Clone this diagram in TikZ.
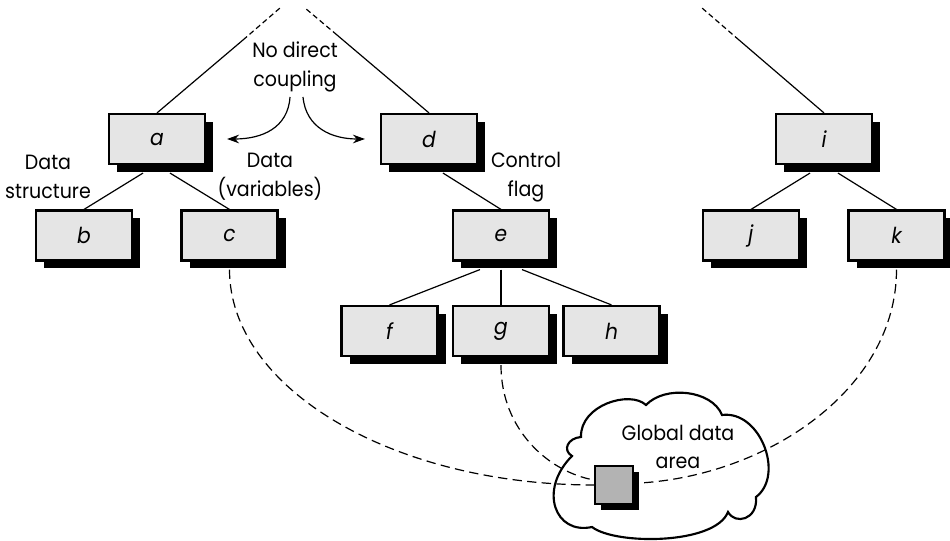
\documentclass[tikz,border=0pt]{standalone}
\usepackage{fontspec}
\setmainfont[FakeStretch=0.92]{Poppins}
\usetikzlibrary{shadows,calc,arrows.meta}
\definecolor{boxgray}{HTML}{E5E5E5}
\definecolor{sqgray}{HTML}{B3B3B3}
\begin{document}
\begin{tikzpicture}[x=0.75pt,y=-0.75pt,
  mod/.style={draw,line width=1.6pt,fill=boxgray,minimum width=72pt,minimum height=37.5pt,inner sep=0pt,
    font=\fontsize{16.5}{18}\selectfont\itshape,
    general shadow={fill=black,shadow xshift=6pt,shadow yshift=-6pt}},
  lbl/.style={align=center,font=\fontsize{15.5}{21.5}\selectfont,inner sep=0pt},
  link/.style={line width=0.9pt},
  topdash/.style={line width=0.9pt,dash pattern=on 4pt off 2.5pt},
  dlink/.style={line width=0.9pt,dash pattern=on 7pt off 4pt},
  coupling/.style={line width=0.9pt,-{Stealth[length=9pt,width=6.5pt]}},
  cloudline/.style={line width=1.6pt,fill=white},
  gbox/.style={draw,line width=1.4pt,fill=sqgray,minimum size=28.5pt,inner sep=0pt,
    general shadow={fill=black,shadow xshift=4.5pt,shadow yshift=-4.5pt}}]
\useasboundingbox (0,0) rectangle (950,541);

% cloud
\draw[cloudline] (592,527) .. controls (555,535) and (538,490) .. (572,456)
  .. controls (562,450) and (568,438) .. (581,437)
  .. controls (580,405) and (630,390) .. (646,405)
  .. controls (665,385) and (712,390) .. (722,415)
  .. controls (760,410) and (785,475) .. (756,497)
  .. controls (758,520) and (735,525) .. (728,512)
  .. controls (715,545) and (615,545) .. (592,527) -- cycle;

% modules
\node[mod] (a) at (157,139) {a};
\node[mod] (b) at (84,235.5) {b};
\node[mod] (c) at (229.5,235.5) {c};
\node[mod] (d) at (429,139) {d};
\node[mod] (e) at (501,235.5) {e};
\node[mod] (f) at (389.5,331) {f};
\node[mod] (g) at (501,331) {g};
\node[mod] (h) at (611.5,331) {h};
\node[mod] (i) at (824,139) {i};
\node[mod] (j) at (751,235.5) {j};
\node[mod] (k) at (896.5,235.5) {k};

% labels
\node[lbl] (ndc) at (295,67) {No direct\\coupling};
\node[lbl] (ds) at (48,177) {Data\\structure};
\node[lbl] (dv) at (270,177) {Data\\(variables)};
\node[lbl] (cf) at (526,177) {Control\\flag};
\node[lbl] (gda) at (678,447) {Global data\\area};

% upward connections
\coordinate (ba) at (243,40); \coordinate (ta) at (280,8);
\coordinate (bd) at (337,35); \coordinate (td) at (305,8);
\coordinate (bi) at (739,40); \coordinate (ti) at (702,8);
\draw[link] (a.north) -- (ba); \draw[topdash] (ba) -- (ta);
\draw[link] (d.north) -- (bd); \draw[topdash] (bd) -- (td);
\draw[link] (i.north) -- (bi); \draw[topdash] (bi) -- (ti);

% tree connections
\draw[link] ($(a.south)+(-14,8)$) -- (b.north);
\draw[link] ($(a.south)+(13,8)$) -- (c.north);
\draw[link] ($(d.south)+(14,8)$) -- (e.north);
\draw[link] ($(e.south)+(-21,8)$) -- (f.north);
\draw[link] ($(e.south)+(0,8)$) -- (g.north);
\draw[link] ($(e.south)+(21,8)$) -- (h.north);
\draw[link] ($(i.south)+(-14,8)$) -- (j.north);
\draw[link] ($(i.south)+(14,8)$) -- (k.north);

% no direct coupling arrows
\coordinate (cl) at (290,97); \coordinate (cr) at (303,97);
\draw[coupling] (cl) .. controls (288,128) and (262,139) .. ($(a.east)+(21,0)$);
\draw[coupling] (cr) .. controls (306,128) and (332,139) .. ($(d.west)+(-15,0)$);

% global data square
\node[gbox] (gd) at (614,485) {};

% global couplings
\draw[dlink] ($(c.south)+(0,8)$) .. controls +(0,119) and +(-201,0) .. (gd.west);
\draw[dlink] ($(g.south)+(0,8)$) .. controls +(0,65) and +(-45,-8) .. ($(gd.west)+(0,-5)$);
\draw[dlink] ($(k.south)+(0,8)$) .. controls +(0,118) and +(130,-8) .. ($(gd.east)+(6,-2)$);
\end{tikzpicture}
\end{document}
